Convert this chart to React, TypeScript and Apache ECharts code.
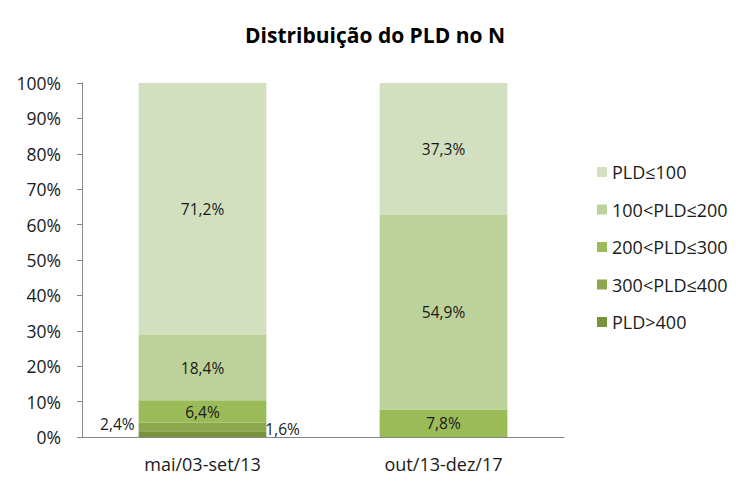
import React, { useEffect, useRef } from "react";
import * as echarts from "echarts";

const categories = ["mai/03-set/13", "out/13-dez/17"];
const seriesNames = ["PLD>400", "300<PLD≤400", "200<PLD≤300", "100<PLD≤200", "PLD≤100"];
const pld400 = [1.6, 0];
const pld300400 = [2.4, 0];
const pld200300 = [6.4, 7.8];
const pld100200 = [18.4, 54.9];
const pld100 = [71.2, 37.3];
const colors = ["#77933C", "#8CA84F", "#9BBB59", "#BDD29B", "#D3E0C0"];
const yTicks = [0, 10, 20, 30, 40, 50, 60, 70, 80, 90, 100];

const FONT = "'Open Sans', Lato, sans-serif";

const fmt = (v: number) => (v ? v.toFixed(1).replace(".", ",") + "%" : "");

export default function App() {
  const ref = useRef<HTMLDivElement>(null);
  useEffect(() => {
    if (!ref.current) return;
    const chart = echarts.init(ref.current, undefined, { renderer: "svg" });
    const dataArr = [pld400, pld300400, pld200300, pld100200, pld100];
    const series = seriesNames.map((name, i) => {
      let label: any = {
        show: true,
        position: "inside",
        color: "#1a1a1a",
        fontSize: 15.5,
        fontFamily: FONT,
        formatter: (p: any) => fmt(p.value),
      };
      if (i === 0) label = { ...label, position: "right", offset: [-6, -5] };
      if (i === 1) label = { ...label, position: "left", offset: [1, -3] };
      return {
        name,
        type: "bar",
        stack: "total",
        barWidth: "53%",
        data: dataArr[i],
        itemStyle: { color: colors[i] },
        label,
      };
    });
    chart.setOption({
      animation: false,
      title: {
        text: "Distribuição do PLD no N",
        left: "center",
        top: 11,
        textStyle: { fontSize: 21, fontWeight: "bold", color: "#000", fontFamily: FONT },
      },
      grid: { left: 74, top: 75, width: 482, height: 354, containLabel: false },
      legend: {
        orient: "vertical",
        left: 584,
        top: 150,
        itemWidth: 10,
        itemHeight: 10,
        itemGap: 19.5,
        icon: "rect",
        data: [...seriesNames].reverse(),
        textStyle: { fontSize: 18, color: "#1a1a1a", fontFamily: FONT },
      },
      xAxis: {
        type: "category",
        data: categories,
        axisLine: { show: true, lineStyle: { color: "#868686" } },
        axisTick: { show: false },
        axisLabel: { fontSize: 18, color: "#1a1a1a", fontFamily: FONT, margin: 18 },
      },
      yAxis: {
        type: "value",
        min: yTicks[0],
        max: yTicks[yTicks.length - 1],
        interval: 10,
        splitLine: { show: false },
        axisLine: { show: true, lineStyle: { color: "#868686" } },
        axisTick: { show: true, length: 5, lineStyle: { color: "#868686" } },
        axisLabel: {
          fontSize: 17.5,
          color: "#1a1a1a",
          fontFamily: FONT,
          margin: 21,
          formatter: "{value}%",
        },
      },
      series,
    });
    return () => chart.dispose();
  }, []);
  return <div ref={ref} style={{ width: 734, height: 478 }} />;
}
